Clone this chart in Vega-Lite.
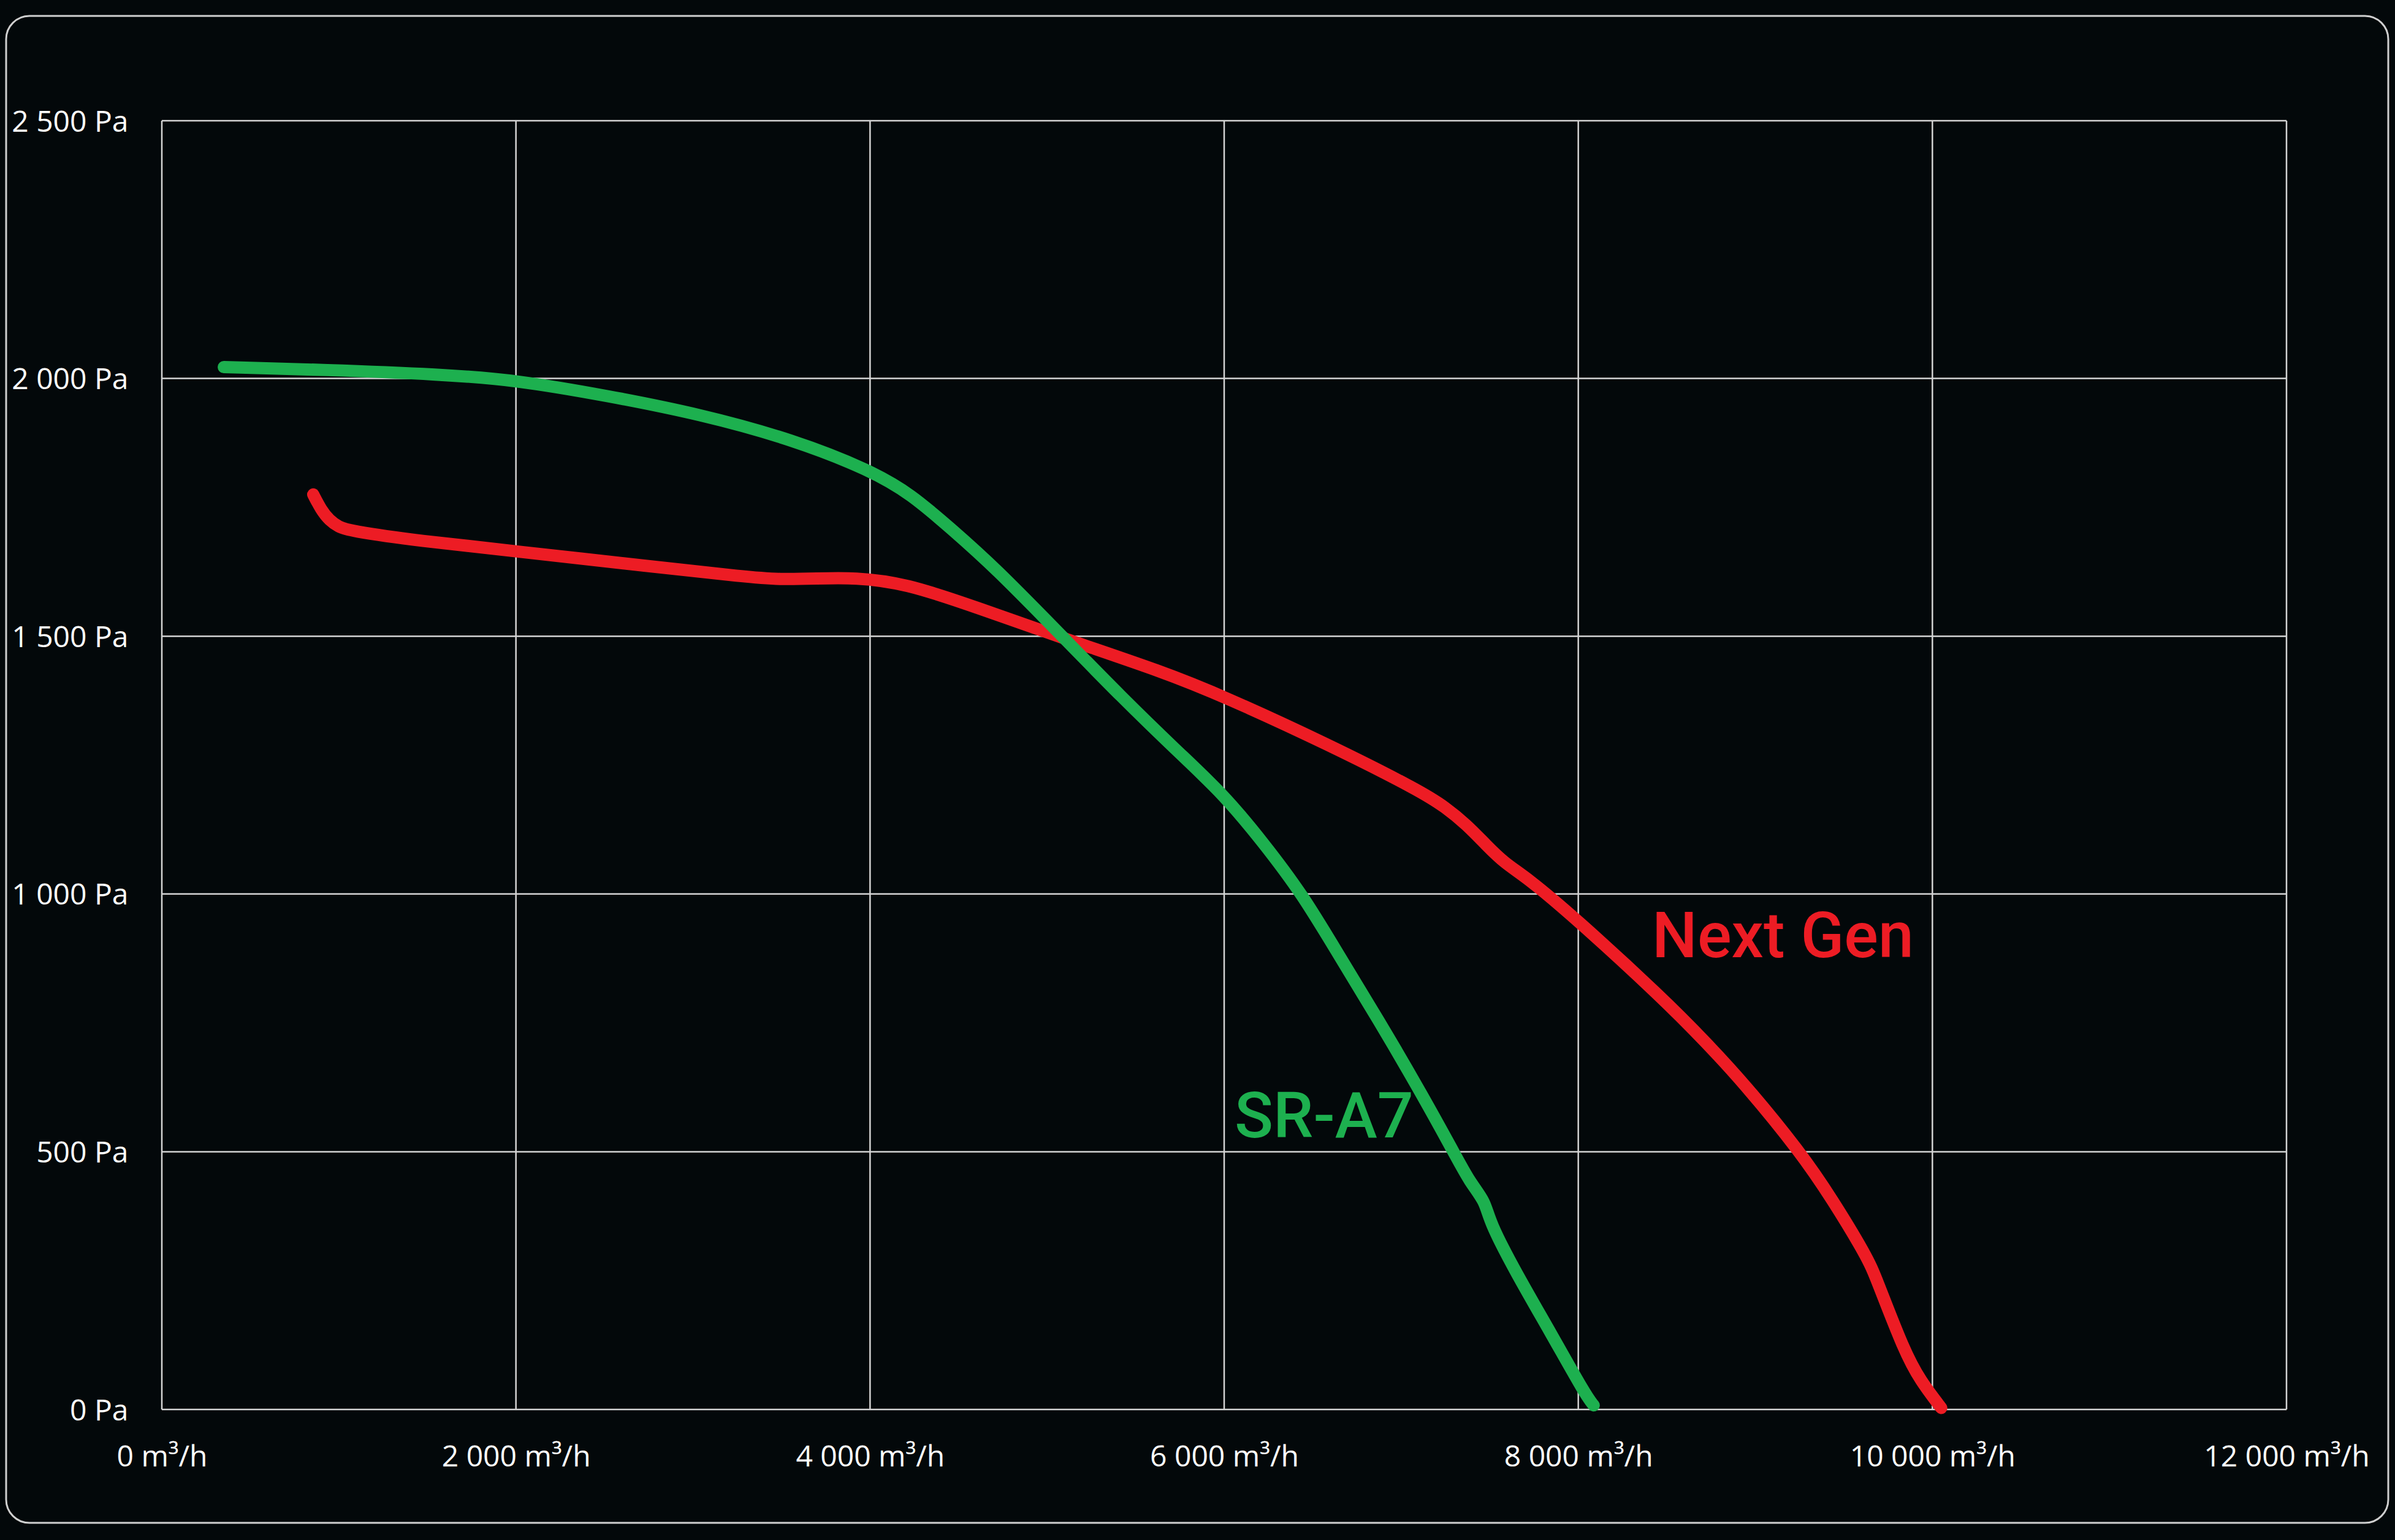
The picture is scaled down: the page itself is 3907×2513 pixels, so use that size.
{
  "$schema": "https://vega.github.io/schema/vega-lite/v6.json",
  "width": 3886,
  "height": 2459,
  "autosize": "none",
  "padding": {"left": 10, "top": 26, "right": 11, "bottom": 28},
  "background": "#03080a",
  "config": {
    "view": {"stroke": "#cfcfcf", "strokeWidth": 3, "cornerRadius": 38, "fill": "#03080a"},
    "font": "Open Sans",
    "axisX": {
      "grid": false, "domain": false, "ticks": false,
      "labelExpr": "replace(format(datum.value, ','), ',', ' ') + ' m³/h'",
      "labelFontSize": 48, "labelColor": "#ffffff", "labelFont": "Open Sans",
      "labelBaseline": "middle", "labelAlign": "center", "labelPadding": 0, "offset": -107,
      "labelFlush": false, "labelOverlap": false, "labelLimit": 600, "title": null
    },
    "axisY": {
      "grid": false, "domain": false, "ticks": false,
      "labelExpr": "replace(format(datum.value, ','), ',', ' ') + ' Pa'",
      "labelFontSize": 48, "labelColor": "#ffffff", "labelFont": "Open Sans",
      "labelBaseline": "middle", "labelAlign": "right", "labelPadding": 0, "offset": -199, "labelOffset": 3,
      "labelFlush": false, "labelOverlap": false, "labelLimit": 600, "title": null
    }
  },
  "datasets": {
    "curves": [
      {"series": "Next Gen", "flow": 855, "pressure": 1775},
      {"series": "Next Gen", "flow": 900, "pressure": 1745},
      {"series": "Next Gen", "flow": 946, "pressure": 1725},
      {"series": "Next Gen", "flow": 1000, "pressure": 1712},
      {"series": "Next Gen", "flow": 1052, "pressure": 1705},
      {"series": "Next Gen", "flow": 1449, "pressure": 1685},
      {"series": "Next Gen", "flow": 2000, "pressure": 1665},
      {"series": "Next Gen", "flow": 2773, "pressure": 1635},
      {"series": "Next Gen", "flow": 3300, "pressure": 1615},
      {"series": "Next Gen", "flow": 3490, "pressure": 1610},
      {"series": "Next Gen", "flow": 3700, "pressure": 1612},
      {"series": "Next Gen", "flow": 3912, "pressure": 1614},
      {"series": "Next Gen", "flow": 4198, "pressure": 1603},
      {"series": "Next Gen", "flow": 4594, "pressure": 1557},
      {"series": "Next Gen", "flow": 5099, "pressure": 1495},
      {"series": "Next Gen", "flow": 5655, "pressure": 1431},
      {"series": "Next Gen", "flow": 6000, "pressure": 1383},
      {"series": "Next Gen", "flow": 6583, "pressure": 1291},
      {"series": "Next Gen", "flow": 7113, "pressure": 1199},
      {"series": "Next Gen", "flow": 7250, "pressure": 1168},
      {"series": "Next Gen", "flow": 7368, "pressure": 1135},
      {"series": "Next Gen", "flow": 7480, "pressure": 1095},
      {"series": "Next Gen", "flow": 7583, "pressure": 1060},
      {"series": "Next Gen", "flow": 7713, "pressure": 1031},
      {"series": "Next Gen", "flow": 7971, "pressure": 957},
      {"series": "Next Gen", "flow": 8479, "pressure": 797},
      {"series": "Next Gen", "flow": 8719, "pressure": 713},
      {"series": "Next Gen", "flow": 8938, "pressure": 632},
      {"series": "Next Gen", "flow": 9255, "pressure": 499},
      {"series": "Next Gen", "flow": 9434, "pressure": 408},
      {"series": "Next Gen", "flow": 9633, "pressure": 295},
      {"series": "Next Gen", "flow": 9680, "pressure": 257},
      {"series": "Next Gen", "flow": 9842, "pressure": 112},
      {"series": "Next Gen", "flow": 9934, "pressure": 55},
      {"series": "Next Gen", "flow": 10050, "pressure": 3},
      {"series": "SR-A7", "flow": 350, "pressure": 2022},
      {"series": "SR-A7", "flow": 920, "pressure": 2017},
      {"series": "SR-A7", "flow": 1582, "pressure": 2008},
      {"series": "SR-A7", "flow": 2000, "pressure": 1997},
      {"series": "SR-A7", "flow": 2509, "pressure": 1967},
      {"series": "SR-A7", "flow": 3039, "pressure": 1931},
      {"series": "SR-A7", "flow": 3569, "pressure": 1881},
      {"series": "SR-A7", "flow": 4001, "pressure": 1822},
      {"series": "SR-A7", "flow": 4230, "pressure": 1776},
      {"series": "SR-A7", "flow": 4463, "pressure": 1707},
      {"series": "SR-A7", "flow": 4700, "pressure": 1635},
      {"series": "SR-A7", "flow": 5099, "pressure": 1495},
      {"series": "SR-A7", "flow": 5417, "pressure": 1383},
      {"series": "SR-A7", "flow": 5735, "pressure": 1277},
      {"series": "SR-A7", "flow": 6000, "pressure": 1192},
      {"series": "SR-A7", "flow": 6220, "pressure": 1100},
      {"series": "SR-A7", "flow": 6441, "pressure": 1000},
      {"series": "SR-A7", "flow": 6650, "pressure": 880},
      {"series": "SR-A7", "flow": 6871, "pressure": 756},
      {"series": "SR-A7", "flow": 7101, "pressure": 621},
      {"series": "SR-A7", "flow": 7300, "pressure": 497},
      {"series": "SR-A7", "flow": 7387, "pressure": 441},
      {"series": "SR-A7", "flow": 7476, "pressure": 403},
      {"series": "SR-A7", "flow": 7496, "pressure": 366},
      {"series": "SR-A7", "flow": 7645, "pressure": 267},
      {"series": "SR-A7", "flow": 7844, "pressure": 149},
      {"series": "SR-A7", "flow": 8043, "pressure": 27},
      {"series": "SR-A7", "flow": 8087, "pressure": 8}
    ],
    "labels": [
      {"series": "Next Gen", "flow": 8417, "pressure": 877},
      {"series": "SR-A7", "flow": 6059, "pressure": 528}
    ],
    "xgrid": [{"g": 0}, {"g": 2000}, {"g": 4000}, {"g": 6000}, {"g": 8000}, {"g": 10000}, {"g": 12000}],
    "ygrid": [{"g": 0}, {"g": 500}, {"g": 1000}, {"g": 1500}, {"g": 2000}, {"g": 2500}]
  },
  "layer": [
    {
      "data": {"name": "xgrid"},
      "mark": {"type": "rule", "color": "#d4d4d4", "strokeWidth": 2.5},
      "encoding": {
        "x": {"field": "g", "type": "quantitative", "scale": {"domain": [-879.4, 12574.7], "nice": false, "zero": false}, "axis": {"values": [0, 2000, 4000, 6000, 8000, 10000, 12000]}},
        "y": {"datum": 0, "type": "quantitative", "scale": {"domain": [-219.9, 2703.3], "nice": false, "zero": false}, "axis": {"values": [0, 500, 1000, 1500, 2000, 2500]}},
        "y2": {"datum": 2500}
      }
    },
    {
      "data": {"name": "ygrid"},
      "mark": {"type": "rule", "color": "#d4d4d4", "strokeWidth": 2.5},
      "encoding": {
        "y": {"field": "g", "type": "quantitative", "scale": {"domain": [-219.9, 2703.3], "nice": false, "zero": false}, "axis": {"values": [0, 500, 1000, 1500, 2000, 2500]}},
        "x": {"datum": 0, "type": "quantitative", "scale": {"domain": [-879.4, 12574.7], "nice": false, "zero": false}, "axis": {"values": [0, 2000, 4000, 6000, 8000, 10000, 12000]}},
        "x2": {"datum": 12000}
      }
    },
    {
      "data": {"name": "curves"},
      "transform": [{"filter": "datum.series === 'Next Gen'"}],
      "mark": {"type": "line", "interpolate": "basis", "strokeWidth": 20, "strokeCap": "round", "strokeJoin": "round"},
      "encoding": {
        "x": {"field": "flow", "type": "quantitative", "scale": {"domain": [-879.4, 12574.7], "nice": false, "zero": false}, "axis": {"values": [0, 2000, 4000, 6000, 8000, 10000, 12000]}},
        "y": {"field": "pressure", "type": "quantitative", "scale": {"domain": [-219.9, 2703.3], "nice": false, "zero": false}, "axis": {"values": [0, 500, 1000, 1500, 2000, 2500]}},
        "color": {"field": "series", "type": "nominal", "scale": {"domain": ["Next Gen", "SR-A7"], "range": ["#ed1c24", "#1db04f"]}, "legend": null}
      }
    },
    {
      "data": {"name": "curves"},
      "transform": [{"filter": "datum.series === 'SR-A7'"}],
      "mark": {"type": "line", "interpolate": "basis", "strokeWidth": 20, "strokeCap": "round", "strokeJoin": "round"},
      "encoding": {
        "x": {"field": "flow", "type": "quantitative", "scale": {"domain": [-879.4, 12574.7], "nice": false, "zero": false}, "axis": {"values": [0, 2000, 4000, 6000, 8000, 10000, 12000]}},
        "y": {"field": "pressure", "type": "quantitative", "scale": {"domain": [-219.9, 2703.3], "nice": false, "zero": false}, "axis": {"values": [0, 500, 1000, 1500, 2000, 2500]}},
        "color": {"field": "series", "type": "nominal", "scale": {"domain": ["Next Gen", "SR-A7"], "range": ["#ed1c24", "#1db04f"]}, "legend": null}
      }
    },
    {
      "data": {"name": "labels"},
      "mark": {"type": "text", "align": "left", "baseline": "alphabetic", "font": "Roboto", "fontSize": 104, "fontWeight": 500},
      "encoding": {
        "x": {"field": "flow", "type": "quantitative", "scale": {"domain": [-879.4, 12574.7], "nice": false, "zero": false}, "axis": {"values": [0, 2000, 4000, 6000, 8000, 10000, 12000]}},
        "y": {"field": "pressure", "type": "quantitative", "scale": {"domain": [-219.9, 2703.3], "nice": false, "zero": false}, "axis": {"values": [0, 500, 1000, 1500, 2000, 2500]}},
        "text": {"field": "series", "type": "nominal"},
        "color": {"field": "series", "type": "nominal", "scale": {"domain": ["Next Gen", "SR-A7"], "range": ["#ed1c24", "#1db04f"]}, "legend": null}
      }
    }
  ]
}
